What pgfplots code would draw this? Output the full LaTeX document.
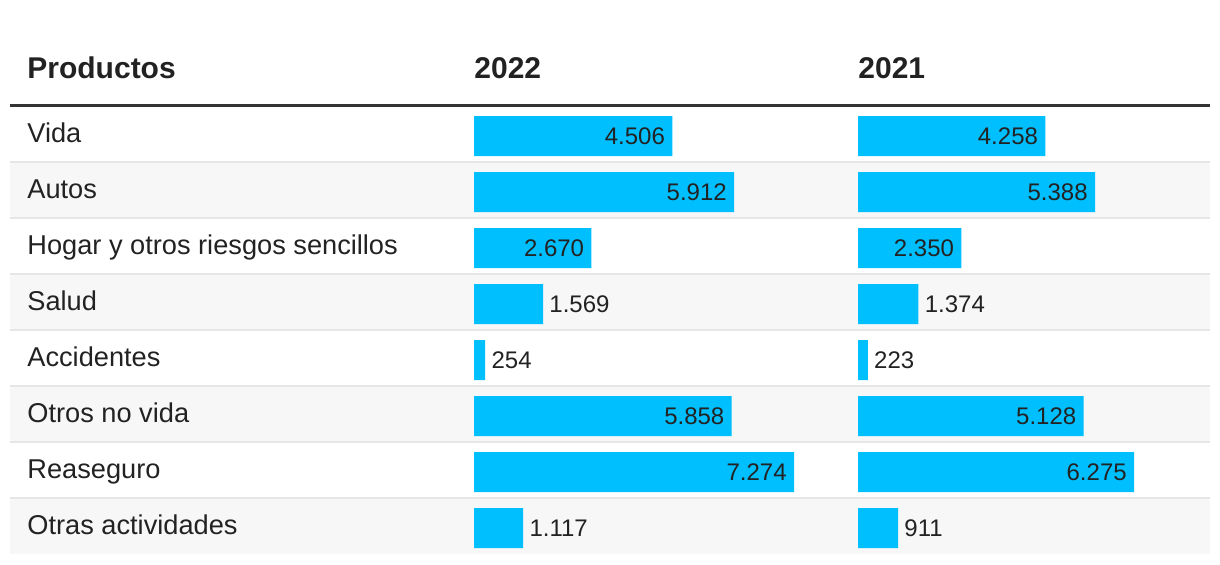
\documentclass[border=0pt]{standalone}
\usepackage{fontspec}
\setmainfont{Liberation Sans}
\usepackage{pgfplots}
\usepackage{pgfplotstable}
\pgfplotsset{compat=1.18}
\definecolor{barc}{HTML}{00BFFF}
\definecolor{txt}{HTML}{222222}
\definecolor{rowbg}{HTML}{F7F7F7}
\definecolor{sep}{HTML}{E6E6E6}
\definecolor{rule}{HTML}{333333}

\pgfplotstableread{
k v lab
1 4506 4.506
2 5912 5.912
3 2670 2.670
4 1569 1.569
5 254 254
6 5858 5.858
7 7274 7.274
8 1117 1.117
}\dataA

\pgfplotstableread{
k v lab
1 4258 4.258
2 5388 5.388
3 2350 2.350
4 1374 1.374
5 223 223
6 5128 5.128
7 6275 6.275
8 911 911
}\dataB

\pgfplotsset{
  colaxis/.style={
    scale only axis, width=176pt, height=224pt,
    anchor=north west,
    xmin=0, xmax=8000, ymin=0.5, ymax=8.5, y dir=reverse,
    enlargelimits=false, hide axis, clip=false,
  },
  barplot/.style={xbar, bar width=20pt, fill=barc, draw=none},
  labin/.style={draw=none, mark=none, point meta=explicit symbolic,
    restrict x to domain=2000:20000,
    nodes near coords,
    every node near coord/.style={anchor=east, inner xsep=3.5pt, inner ysep=0pt,
      font=\fontsize{12pt}{14pt}\selectfont, text=txt}},
  labout/.style={draw=none, mark=none, point meta=explicit symbolic,
    restrict x to domain=0:2000,
    nodes near coords,
    every node near coord/.style={anchor=west, inner xsep=3pt, inner ysep=0pt,
      font=\fontsize{12pt}{14pt}\selectfont, text=txt}},
}

\begin{document}
\begin{tikzpicture}[x=0.5pt,y=0.5pt]
\path[use as bounding box] (0,0) rectangle (1220,564);
% row shading
\foreach \t in {162,274,386,498}{
  \fill[rowbg] (10,564-\t) rectangle (1210,564-\t-56);
}
% separators
\foreach \t in {162,218,274,330,386,442,498}{
  \draw[sep, line width=1pt] (10,564-\t) -- (1210,564-\t);
}
% header rule
\draw[rule, line width=1.75pt] (10,564-105.5) -- (1210,564-105.5);
% headers
\begin{scope}[every node/.style={anchor=base west, inner sep=0pt, text=txt,
    font=\fontsize{15pt}{17pt}\selectfont\bfseries}]
\node at (27,564-78) {Productos};
\node at (474,564-78) {2022};
\node at (858,564-78) {2021};
\end{scope}
% row labels
\begin{scope}[every node/.style={anchor=base west, inner sep=0pt, text=txt,
    font=\fontsize{13.6pt}{16pt}\selectfont}]
\node at (27,564-142) {Vida};
\node at (27,564-198) {Autos};
\node at (27,564-254) {Hogar y otros riesgos sencillos};
\node at (27,564-310) {Salud};
\node at (27,564-366) {Accidentes};
\node at (27,564-422) {Otros no vida};
\node at (27,564-478) {Reaseguro};
\node at (27,564-534) {Otras actividades};
\end{scope}

\begin{axis}[colaxis, at={(237pt,228pt)}]
\addplot[barplot] table[x=v, y=k] {\dataA};
\addplot[labin] table[x=v, y=k, meta=lab] {\dataA};
\addplot[labout] table[x=v, y=k, meta=lab] {\dataA};
\end{axis}
\begin{axis}[colaxis, at={(429pt,228pt)}]
\addplot[barplot] table[x=v, y=k] {\dataB};
\addplot[labin] table[x=v, y=k, meta=lab] {\dataB};
\addplot[labout] table[x=v, y=k, meta=lab] {\dataB};
\end{axis}
\end{tikzpicture}
\end{document}
